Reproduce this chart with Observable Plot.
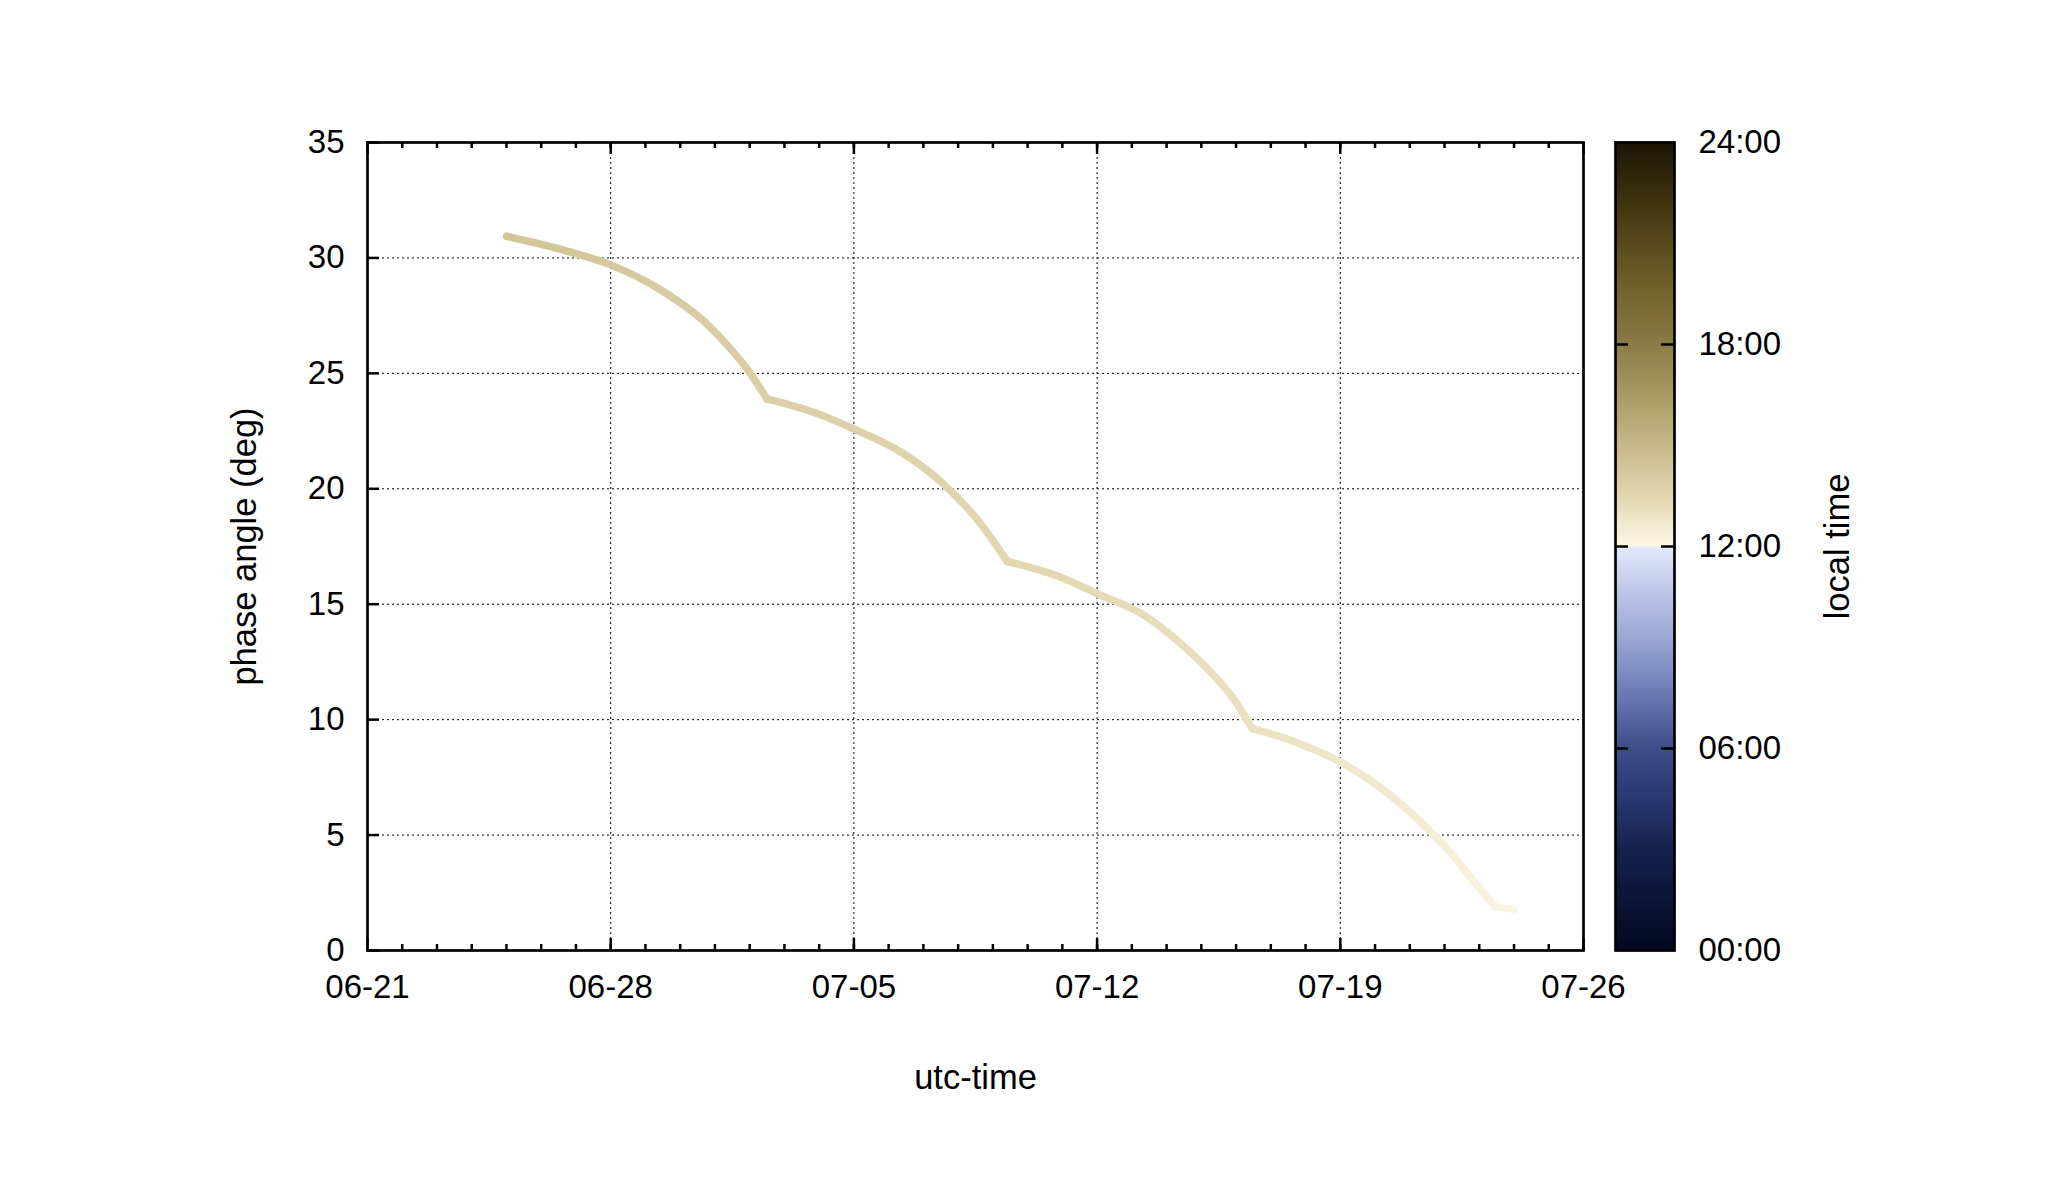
<!DOCTYPE html>
<html><head><meta charset="utf-8">
<script src="https://cdn.jsdelivr.net/npm/d3@7"></script>
<script src="https://cdn.jsdelivr.net/npm/@observablehq/plot@0.6"></script>
<style>
html,body{margin:0;padding:0;background:#fff;}
#wrap{position:relative;width:2057px;height:1200px;overflow:hidden;background:#fff;}
#wrap svg{position:absolute;top:0;overflow:visible;}
</style></head><body><div id="wrap"></div>
<script>
// ---- data ----
const year = "2015";
const xTickLabels = ["06-21","06-28","07-05","07-12","07-19","07-26"];
const yTicks = [0,5,10,15,20,25,30,35];
const cbTicks = [0,6,12,18,24];

const seg = [1,1,1,1,1,1,1,1, 2,2,2,2,2,2,2, 3,3,3,3,3,3,3,3, 4,4,4,4,4,4,4,4, 5,5];
const times = [
  "06-25T00:00","06-26T12:30","06-28T00:00","06-29T11:30","06-30T16:00","07-01T11:00","07-01T23:00","07-02T12:00",
  "07-02T12:00","07-03T22:00","07-05T00:00","07-06T09:30","07-07T14:00","07-08T14:00","07-09T10:00",
  "07-09T10:00","07-10T21:00","07-12T00:00","07-13T08:30","07-14T08:30","07-15T08:30","07-15T23:00","07-16T11:00",
  "07-16T11:00","07-17T20:00","07-19T00:00","07-20T07:30","07-21T07:30","07-22T02:30","07-22T19:30","07-23T11:00",
  "07-23T11:00","07-24T00:00"
];
const phase = [
  30.94,30.39,29.70,28.58,27.28,26.05,25.12,23.89,
  23.89,23.27,22.59,21.55,20.20,18.61,16.85,
  16.85,16.21,15.46,14.52,13.37,11.92,10.84,9.62,
  9.62,8.96,8.17,6.88,5.58,4.35,3.05,1.89,
  1.89,1.79
];
const localTime = [
  14.4,14.3,14.2,14.1,14.0,13.95,13.9,13.85,
  13.85,13.8,13.75,13.65,13.6,13.5,13.45,
  13.45,13.4,13.3,13.25,13.15,13.1,13.05,13.0,
  13.0,12.9,12.75,12.65,12.5,12.4,12.3,12.2,
  12.2,12.1
];
const cbStops = [0,1.5,3,4.5,6,7.5,9,10.5,11.999,12,13.5,15,16.5,18,19.5,21,22.5,24];
const cbColors = ["#020822","#0b1536","#16224e","#2a3870","#3f4d88","#6777b0","#93a0d0","#b9c2e6","#e4e9fb",
                  "#fdf8e6","#e2d6af","#c7b98a","#a89a62","#8b7b48","#74652e","#584a1c","#3a2f0e","#1c1504"];

// ---- build ----
const parse = d3.utcParse("%Y-%m-%dT%H:%M");
const weekDates = xTickLabels.map(s => parse(`${year}-${s}T00:00`));
const xDomain = [weekDates[0], weekDates[weekDates.length - 1]];
const dayDates = d3.utcDay.range(xDomain[0], d3.utcDay.offset(xDomain[1], 1));
const data = times.map((t, i) => ({date: parse(`${year}-${t}`), phase: phase[i], lt: localTime[i], seg: seg[i]}));

const font = "'Liberation Sans', Arial, Helvetica, sans-serif";
const W = 2057, H = 1200, ML = 367, MR = 474, MT = 142, MB = 250;
const fw = W - ML - MR, fh = H - MT - MB;
const majorLen = 12, minorLen = 6, tickW = 2.5;
const gridStyle = {stroke: "#000", strokeWidth: 1, strokeDasharray: "2,3"};
const tickStyle = {stroke: "#000", strokeWidth: tickW};
const colorOpts = {type: "linear", domain: cbStops, range: cbColors, interpolate: "rgb"};

const main = Plot.plot({
  width: W, height: H, marginLeft: ML, marginRight: MR, marginTop: MT, marginBottom: MB,
  style: {fontFamily: font, fontSize: "33px", background: "transparent", color: "#000"},
  x: {type: "utc", domain: xDomain},
  y: {domain: [0, 35]},
  marks: [
    Plot.ruleX(weekDates.slice(1, -1), gridStyle),
    Plot.ruleY(yTicks.slice(1, -1), gridStyle),
    Plot.tickX(dayDates, {...tickStyle, insetTop: fh - minorLen}),
    Plot.tickX(dayDates, {...tickStyle, insetBottom: fh - minorLen}),
    Plot.tickX(weekDates, {...tickStyle, insetTop: fh - majorLen}),
    Plot.tickX(weekDates, {...tickStyle, insetBottom: fh - majorLen}),
    Plot.tickY(yTicks, {...tickStyle, insetRight: fw - majorLen}),
    Plot.axisX({ticks: weekDates, tickSize: 0, tickPadding: 24, tickFormat: d3.utcFormat("%m-%d"), label: null}),
    Plot.axisY({ticks: yTicks, tickSize: 0, tickPadding: 23, label: null}),
    Plot.line(data, {x: "date", y: "phase", z: "seg", stroke: "url(#ltgrad)", strokeWidth: 7.5,
                     curve: "monotone-x", strokeLinecap: "round", strokeLinejoin: "round"}),
    Plot.frame({stroke: "#000", strokeWidth: 2.7}),
    Plot.text(["utc-time"], {text: d => d, frameAnchor: "bottom", dy: 138, fontSize: 34.5}),
    Plot.text(["phase angle (deg)"], {text: d => d, frameAnchor: "left", textAnchor: "middle", dx: -123, rotate: -90, fontSize: 34.5})
  ]
});

// gradient along the line, colours from the local-time colour scale
const xs = main.scale("x");
const cs = Plot.scale({color: colorOpts});
const ns = "http://www.w3.org/2000/svg";
const gx0 = xs.apply(data[0].date), gx1 = xs.apply(data[data.length - 1].date);
const defs = document.createElementNS(ns, "defs");
const grad = document.createElementNS(ns, "linearGradient");
grad.setAttribute("id", "ltgrad");
grad.setAttribute("gradientUnits", "userSpaceOnUse");
grad.setAttribute("x1", gx0); grad.setAttribute("x2", gx1);
grad.setAttribute("y1", 0); grad.setAttribute("y2", 0);
data.forEach(d => {
  const s = document.createElementNS(ns, "stop");
  s.setAttribute("offset", (xs.apply(d.date) - gx0) / (gx1 - gx0));
  s.setAttribute("stop-color", cs.apply(d.lt));
  grad.appendChild(s);
});
defs.appendChild(grad);
main.insertBefore(defs, main.firstChild);
main.style.left = "0px";

// ---- colour bar ----
const CBL = 1600, CBW = 457, cbML = 15, cbFW = 59;
const step = 0.05;
const cbData = d3.range(0, 24, step);
const cb = Plot.plot({
  width: CBW, height: H, marginLeft: cbML, marginRight: CBW - cbML - cbFW, marginTop: MT, marginBottom: MB,
  style: {fontFamily: font, fontSize: "33px", background: "transparent", color: "#000"},
  y: {domain: [0, 24]},
  color: colorOpts,
  marks: [
    Plot.rect(cbData, {y1: d => d, y2: d => d + step, fill: d => d + step / 2, insetTop: -0.4, insetBottom: -0.4}),
    Plot.tickY(cbTicks.slice(1, -1), {...tickStyle, insetRight: cbFW - 13}),
    Plot.tickY(cbTicks.slice(1, -1), {...tickStyle, insetLeft: cbFW - 13}),
    Plot.axisY({anchor: "right", ticks: cbTicks, tickSize: 0, tickPadding: 24,
                tickFormat: h => String(h).padStart(2, "0") + ":00", label: null}),
    Plot.frame({stroke: "#000", strokeWidth: 2.7}),
    Plot.text(["local time"], {text: d => d, frameAnchor: "right", textAnchor: "middle", dx: 163, rotate: -90, fontSize: 34.5})
  ]
});
cb.style.left = CBL + "px";

const wrap = document.getElementById("wrap");
wrap.appendChild(main);
wrap.appendChild(cb);
</script></body></html>
